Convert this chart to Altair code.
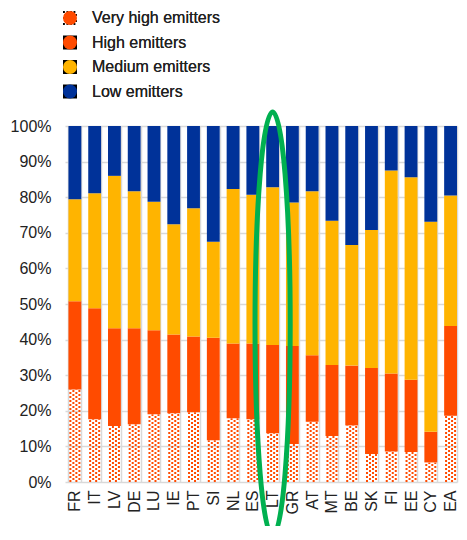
import altair as alt
import pandas as pd

countries = ["FR", "IT", "LV", "DE", "LU", "IE", "PT", "SI", "NL", "ES",
             "LT", "GR", "AT", "MT", "BE", "SK", "FI", "EE", "CY", "EA"]
very_high = [26.0, 17.6, 15.7, 16.2, 19.0, 19.3, 19.6, 11.7, 17.9, 17.6,
             13.7, 10.7, 16.9, 12.9, 15.9, 7.9, 8.6, 8.4, 5.5, 18.6]
high = [24.8, 31.2, 27.5, 27.0, 23.6, 22.1, 21.3, 28.8, 21.0, 21.3,
        24.8, 27.5, 18.7, 20.0, 16.8, 24.1, 21.9, 20.3, 8.6, 25.2]
medium = [28.6, 32.3, 42.8, 38.5, 36.1, 31.0, 36.0, 27.0, 43.4, 41.8,
          44.3, 40.3, 46.1, 40.5, 33.9, 38.8, 57.0, 56.9, 59.0, 36.7]
low = [20.6, 18.9, 14.0, 18.3, 21.3, 27.6, 23.1, 32.5, 17.7, 19.3,
       17.2, 21.5, 18.3, 26.6, 33.4, 29.2, 12.5, 14.4, 26.9, 19.5]
categories = ["Very high emitters", "High emitters", "Medium emitters", "Low emitters"]
colors = ["#FF4B00", "#FF4B00", "#FFB400", "#003299"]
y_ticks = [0, 10, 20, 30, 40, 50, 60, 70, 80, 90, 100]
highlight_country = "LT"
highlight_center = 44.4

FONT = "Liberation Sans"
TEXT = "#222222"
GRID = "#d9d9d9"

series = [very_high, high, medium, low]
rows = []
for ci, c in enumerate(countries):
    for k, cat in enumerate(categories):
        rows.append({"country": c, "series": cat, "idx": k, "value": series[k][ci]})
long_df = pd.DataFrame(rows)
wide_df = pd.DataFrame({"country": countries, "vh": very_high})

# dotted legend symbol path (small squares)
parts = []
for r in range(5):
    for cidx in range(4):
        x0 = -1.0 + cidx * 0.5 + (0.22 if r % 2 else 0.0)
        y0 = -1.0 + r * 0.43
        parts.append(f"M{x0:.2f} {y0:.2f}h0.27v0.27h-0.27Z")
dot_path = "".join(parts)

ellipse_path = "M0 -1A0.083 1 0 0 1 0 1A0.083 1 0 0 1 0 -1Z"

xscale = alt.Scale(domain=countries, paddingInner=0.35, paddingOuter=0.0875, align=1)
yscale = alt.Scale(domain=[0, 100], nice=False)

xaxis = alt.Axis(title=None, labelAngle=-90, labelPadding=8, ticks=False, domain=False,
                 grid=True, tickBand="extent", gridColor=GRID, gridWidth=1.5,
                 labelFont=FONT, labelFontSize=16, labelColor=TEXT)
yaxis = alt.Axis(title=None, values=y_ticks, labelExpr="datum.value + '%'", ticks=False,
                 domain=False, gridColor=GRID, gridWidth=1.5, labelPadding=14,
                 labelFont=FONT, labelFontSize=16, labelColor=TEXT)


def X():
    return alt.X("country:N", sort=countries, scale=xscale, axis=xaxis)


bars = alt.Chart(long_df).mark_bar().encode(
    x=X(),
    y=alt.Y("value:Q", stack="zero", scale=yscale, axis=yaxis),
    color=alt.Color("series:N", scale=alt.Scale(domain=categories, range=colors), legend=None),
    order=alt.Order("idx:Q"),
    opacity=alt.condition(alt.datum.series == categories[0], alt.value(0), alt.value(1)),
)

dot_layers = []
for i, dx in enumerate([-4.5, -1.5, 1.5, 4.5]):
    dot_layers.append(
        alt.Chart(wide_df).transform_calculate(zero="0").mark_rule(
            xOffset=dx, strokeDash=[2, 2], strokeDashOffset=(0 if i % 2 == 0 else 2),
            strokeWidth=2, color="#FF4B00", strokeCap="butt"
        ).encode(
            x=X(),
            y=alt.Y("zero:Q", scale=yscale, axis=yaxis),
            y2="vh:Q",
        )
    )

legend_props = dict(orient="none", legendX=-3, legendY=-116, title=None, padding=0,
                    labelFont=FONT, labelFontSize=16, labelColor=TEXT, symbolSize=196,
                    symbolOpacity=1, symbolStrokeWidth=0, rowPadding=8.5, labelOffset=14,
                    direction="vertical")

legend_layer = alt.Chart(pd.DataFrame({"category": categories})).mark_point(
    filled=True, opacity=0
).encode(
    x=alt.value(0),
    y=alt.value(0),
    color=alt.Color("category:N", scale=alt.Scale(domain=categories, range=colors),
                    legend=alt.Legend(**legend_props)),
    shape=alt.Shape("category:N",
                    scale=alt.Scale(domain=categories,
                                    range=[dot_path, "square", "square", "square"]),
                    legend=alt.Legend(**legend_props)),
)

ellipse = alt.Chart(pd.DataFrame({"country": [highlight_country],
                                  "center": [highlight_center]})).mark_point(
    shape=ellipse_path, size=179776, filled=False, color="#00B050",
    strokeWidth=5, opacity=1, clip=False
).encode(
    x=X(),
    y=alt.Y("center:Q", scale=yscale, axis=yaxis),
)

chart = alt.layer(bars, *dot_layers, legend_layer, ellipse).resolve_scale(
    color="independent"
).properties(
    width=392,
    height=356,
    autosize=alt.AutoSizeParams(type="none"),
    padding={"left": 57, "top": 118, "right": 2, "bottom": 44},
).configure_view(stroke=None)

chart.save("out.html", embed_options={"renderer": "svg", "actions": False})
